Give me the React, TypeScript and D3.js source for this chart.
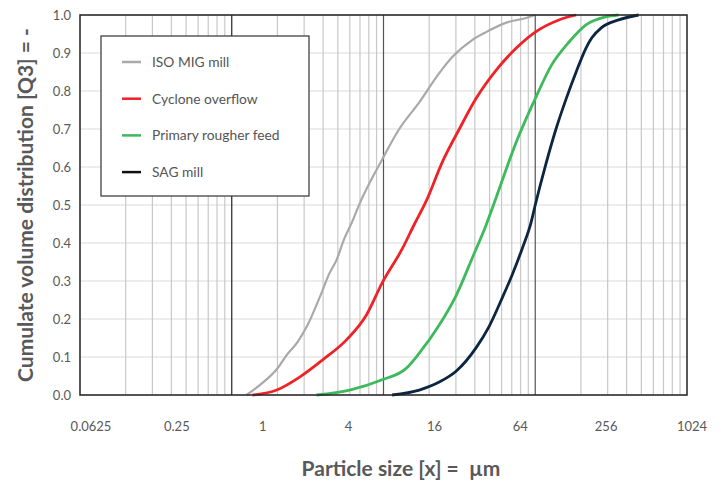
import React, { useEffect, useRef } from 'react';
import * as d3 from 'd3';

// particle size (µm) and cumulative volume fraction
const isoMigSize = [1.25, 1.53, 2.01, 2.3, 2.72, 3.16, 3.62, 3.9, 4.4, 4.9, 5.5, 6.2, 6.95, 9.8, 12.7, 17.2, 23.3, 28.5, 38.4, 47.4, 64.5, 86.9, 100];
const isoMigQ3 = [0, 0.026, 0.071, 0.105, 0.14, 0.184, 0.237, 0.268, 0.32, 0.355, 0.41, 0.455, 0.503, 0.62, 0.7, 0.77, 0.847, 0.89, 0.934, 0.955, 0.98, 0.992, 1.0];

const cycloneSize = [1.37, 1.98, 2.8, 3.96, 5.7, 7.7, 9.8, 13.3, 16, 19.1, 24.4, 31.6, 40.7, 55.3, 75, 100, 143, 186];
const cycloneQ3 = [0, 0.013, 0.047, 0.092, 0.145, 0.21, 0.295, 0.385, 0.45, 0.51, 0.613, 0.7, 0.78, 0.855, 0.913, 0.955, 0.987, 1.0];

const rougherSize = [3.62, 5.98, 9.8, 14.1, 17.2, 23.3, 30.2, 38.4, 47.4, 55.3, 75, 100, 128, 167, 216, 290, 354];
const rougherQ3 = [0, 0.013, 0.04, 0.07, 0.11, 0.184, 0.263, 0.36, 0.447, 0.52, 0.666, 0.78, 0.868, 0.929, 0.974, 0.995, 1.0];

const sagSize = [11.4, 17.2, 23.3, 30.2, 40.7, 49.6, 60.5, 70.4, 82, 94, 100, 117, 137, 160, 186, 216, 236, 272, 354, 480];
const sagQ3 = [0, 0.013, 0.034, 0.063, 0.124, 0.18, 0.255, 0.316, 0.385, 0.455, 0.5, 0.605, 0.7, 0.78, 0.85, 0.913, 0.94, 0.966, 0.987, 1.0];

const seriesNames = ['ISO MIG mill', 'Cyclone overflow', 'Primary rougher feed', 'SAG mill'];
const seriesColors = ['#a9a9a9', '#ee2227', '#3dba5c', '#0c2540'];
const seriesSizes = [isoMigSize, cycloneSize, rougherSize, sagSize];
const seriesQ3 = [isoMigQ3, cycloneQ3, rougherQ3, sagQ3];

const xTickLabels = [0.0625, 0.25, 1, 4, 16, 64, 256, 1024];
const yTicks = [0, 0.1, 0.2, 0.3, 0.4, 0.5, 0.6, 0.7, 0.8, 0.9, 1.0];

const App = () => {
  const ref = useRef<SVGSVGElement>(null);

  useEffect(() => {
    const width = 721;
    const height = 481;
    const margin = { top: 15, right: 34, bottom: 86, left: 80 };
    const innerWidth = width - margin.left - margin.right;
    const innerHeight = height - margin.top - margin.bottom;
    const font = 'Lato, "Open Sans", sans-serif';

    const svg = d3.select(ref.current)
      .attr('width', width)
      .attr('height', height);

    svg.selectAll('*').remove();

    svg.append('rect')
      .attr('width', width)
      .attr('height', height)
      .attr('fill', '#fff');

    const chart = svg.append('g')
      .attr('transform', `translate(${margin.left}, ${margin.top})`);

    // Scales
    const x = d3.scaleLog()
      .domain([0.1, 1000])
      .range([0, innerWidth]);

    const y = d3.scaleLinear()
      .domain([0, 1])
      .range([innerHeight, 0]);

    // horizontal gridlines
    chart.append('g')
      .selectAll('line')
      .data(yTicks)
      .join('line')
      .attr('x1', 0)
      .attr('x2', innerWidth)
      .attr('y1', d => y(d))
      .attr('y2', d => y(d))
      .attr('stroke', '#dcdcdc')
      .attr('stroke-width', 1.2);

    // vertical gridlines (log minor + decades)
    const minor: number[] = [];
    const major: number[] = [];
    [0.1, 1, 10, 100].forEach(dec => {
      for (let k = 2; k <= 9; k++) minor.push(dec * k);
      if (dec > 0.1) major.push(dec);
    });

    chart.append('g')
      .selectAll('line')
      .data(minor)
      .join('line')
      .attr('x1', d => x(d))
      .attr('x2', d => x(d))
      .attr('y1', 0)
      .attr('y2', innerHeight)
      .attr('stroke', '#c8c8c8')
      .attr('stroke-width', 1.2);

    chart.append('g')
      .selectAll('line')
      .data(major)
      .join('line')
      .attr('x1', d => x(d))
      .attr('x2', d => x(d))
      .attr('y1', 0)
      .attr('y2', innerHeight)
      .attr('stroke', d => (d === 1 ? '#222' : '#555'))
      .attr('stroke-width', 1.2);

    // Curves
    const line = d3.line<[number, number]>()
      .x(d => x(d[0]))
      .y(d => y(d[1]))
      .curve(d3.curveMonotoneX);

    seriesNames.forEach((name, i) => {
      const pts = seriesSizes[i].map((s, j) => [s, seriesQ3[i][j]] as [number, number]);
      chart.append('path')
        .datum(pts)
        .attr('fill', 'none')
        .attr('stroke', seriesColors[i])
        .attr('stroke-width', i === 0 ? 2.2 : 2.8)
        .attr('stroke-linejoin', 'round')
        .attr('d', line);
    });

    // plot frame
    chart.append('rect')
      .attr('width', innerWidth)
      .attr('height', innerHeight)
      .attr('fill', 'none')
      .attr('stroke', '#222')
      .attr('stroke-width', 1.5);

    // Y tick labels
    chart.append('g')
      .selectAll('text')
      .data(yTicks)
      .join('text')
      .attr('x', -9)
      .attr('y', d => y(d))
      .attr('dy', '0.35em')
      .attr('text-anchor', 'end')
      .attr('font-family', font)
      .attr('font-size', 13)
      .attr('fill', '#595959')
      .text(d => d.toFixed(1));

    // X tick labels (evenly spaced powers of 4)
    const xl = d3.scaleLog().base(2)
      .domain([0.0625, 1024])
      .range([11, 612]);

    chart.append('g')
      .selectAll('text')
      .data(xTickLabels)
      .join('text')
      .attr('x', d => xl(d))
      .attr('y', innerHeight + 36)
      .attr('text-anchor', 'middle')
      .attr('font-family', font)
      .attr('font-size', 13)
      .attr('fill', '#595959')
      .text(d => String(d));

    // Legend
    const legend = chart.append('g')
      .attr('transform', 'translate(21, 21)');

    legend.append('rect')
      .attr('width', 208)
      .attr('height', 160)
      .attr('fill', '#fff')
      .attr('stroke', '#333')
      .attr('stroke-width', 1.2);

    seriesNames.forEach((name, i) => {
      const ly = 26 + i * 36.7;
      legend.append('line')
        .attr('x1', 21)
        .attr('x2', 40)
        .attr('y1', ly)
        .attr('y2', ly)
        .attr('stroke', i === 3 ? '#111' : seriesColors[i])
        .attr('stroke-width', 2.5);
      legend.append('text')
        .attr('x', 51)
        .attr('y', ly)
        .attr('dy', '0.35em')
        .attr('font-family', font)
        .attr('font-size', 13.8)
        .attr('fill', '#555')
        .text(name);
    });

    // X-axis label
    svg.append('text')
      .attr('x', 401)
      .attr('y', 476)
      .attr('text-anchor', 'middle')
      .attr('font-family', font)
      .attr('font-weight', 'bold')
      .attr('font-size', 21)
      .attr('fill', '#595959')
      .text('Particle size [x] =\u00a0 µm');

    // Y-axis label
    svg.append('text')
      .attr('transform', 'rotate(-90)')
      .attr('x', -205)
      .attr('y', 33)
      .attr('text-anchor', 'middle')
      .attr('font-family', font)
      .attr('font-weight', 'bold')
      .attr('font-size', 21)
      .attr('fill', '#595959')
      .text('Cumulate volume distribution [Q3] = -');
  }, []);

  return <svg ref={ref} style={{ position: 'absolute', left: 0, top: 0 }}></svg>;
};

export default App;
